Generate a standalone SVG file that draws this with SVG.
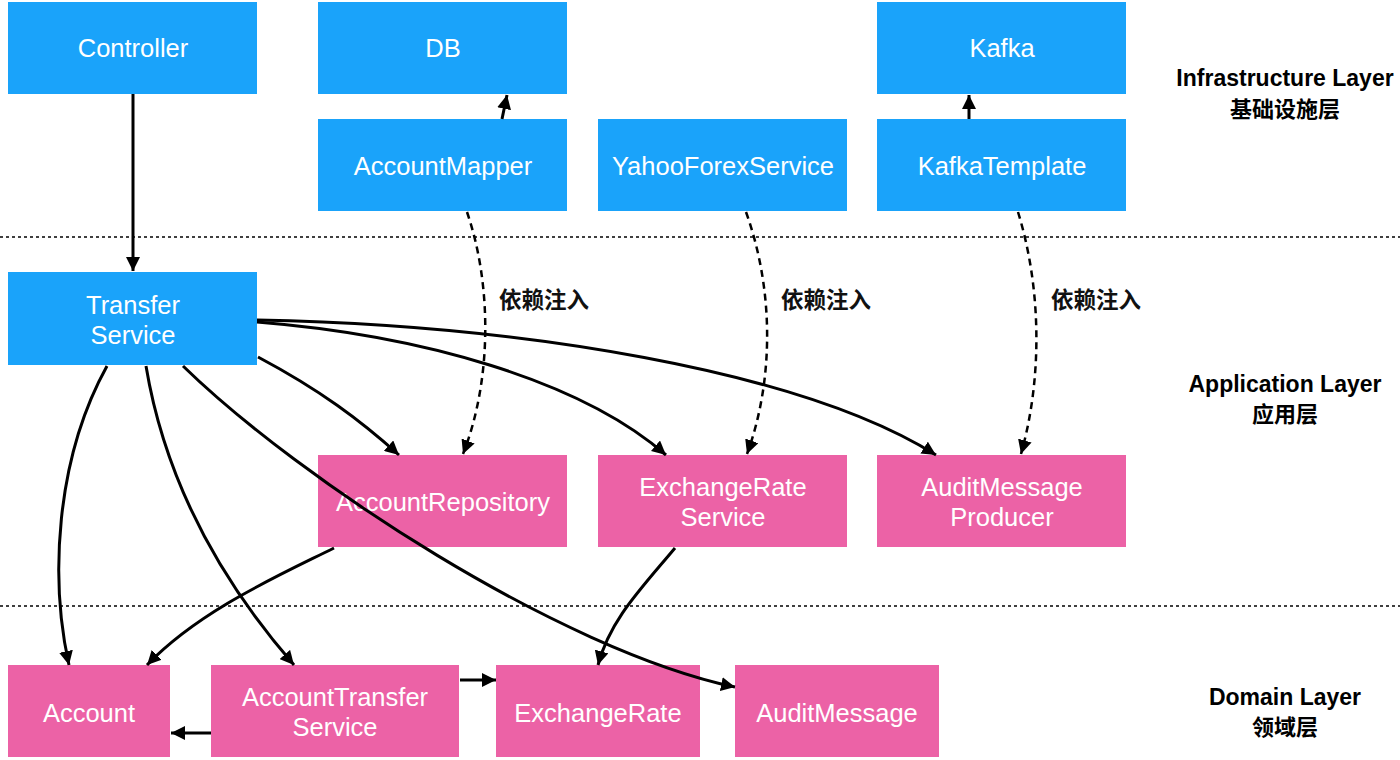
<svg xmlns="http://www.w3.org/2000/svg" width="1400" height="760" viewBox="0 0 1400 760">
<style>
.blue{fill:#1AA3FA}
.pink{fill:#EC62A6}
.nt{font-family:"Liberation Sans",Arial,sans-serif;font-size:25.5px;fill:#fff;text-anchor:middle}
.lt{font-family:"Liberation Sans","Noto Sans CJK SC",sans-serif;font-size:23px;font-weight:bold;fill:#000;text-anchor:middle}
.cjk{font-family:"Noto Sans CJK SC",sans-serif;font-size:22px}
.dep{font-family:"Noto Sans CJK SC",sans-serif;font-size:22.5px;font-weight:bold;fill:#111}
.sep{stroke:#000;stroke-width:1.6;stroke-dasharray:3 3;fill:none}
.c{stroke:#000;stroke-width:3;fill:none}
.d{stroke:#000;stroke-width:2.5;fill:none;stroke-dasharray:7 5}
</style>
<defs>
<marker id="ah" markerUnits="userSpaceOnUse" markerWidth="16" markerHeight="14" refX="14" refY="7" orient="auto">
<path d="M0,0 L14,7 L0,14 Z" fill="#000"/>
</marker>
</defs>
<rect width="1400" height="760" fill="#fff"/>
<g id="separators">
<line class="sep" x1="0" y1="237" x2="1400" y2="237"/>
<line class="sep" x1="0" y1="606" x2="1400" y2="606"/>
</g>
<g id="controller"><rect class="blue" x="8" y="2" width="249" height="92"/><text class="nt" x="133" y="57">Controller</text></g>
<g id="db"><rect class="blue" x="318" y="2" width="249" height="92"/><text class="nt" x="443" y="57">DB</text></g>
<g id="kafka"><rect class="blue" x="877" y="2" width="249" height="92"/><text class="nt" x="1002" y="57">Kafka</text></g>
<g id="accountMapper"><rect class="blue" x="318" y="119" width="249" height="92"/><text class="nt" x="443" y="175">AccountMapper</text></g>
<g id="yahooForexService"><rect class="blue" x="598" y="119" width="249" height="92"/><text class="nt" x="723" y="175">YahooForexService</text></g>
<g id="kafkaTemplate"><rect class="blue" x="877" y="119" width="249" height="92"/><text class="nt" x="1002" y="175">KafkaTemplate</text></g>
<g id="transferService"><rect class="blue" x="8" y="272" width="249" height="93"/><text class="nt" x="133" y="314">Transfer</text><text class="nt" x="133" y="344">Service</text></g>
<g id="accountRepository"><rect class="pink" x="318" y="455" width="249" height="92"/><text class="nt" x="443" y="511">AccountRepository</text></g>
<g id="exchangeRateService"><rect class="pink" x="598" y="455" width="249" height="92"/><text class="nt" x="723" y="496">ExchangeRate</text><text class="nt" x="723" y="526">Service</text></g>
<g id="auditMessageProducer"><rect class="pink" x="877" y="455" width="249" height="92"/><text class="nt" x="1002" y="496">AuditMessage</text><text class="nt" x="1002" y="526">Producer</text></g>
<g id="account"><rect class="pink" x="8" y="665" width="162" height="92"/><text class="nt" x="89" y="722">Account</text></g>
<g id="accountTransferService"><rect class="pink" x="211" y="665" width="248" height="92"/><text class="nt" x="335" y="706">AccountTransfer</text><text class="nt" x="335" y="736">Service</text></g>
<g id="exchangeRate"><rect class="pink" x="496" y="665" width="204" height="92"/><text class="nt" x="598" y="722">ExchangeRate</text></g>
<g id="auditMessage"><rect class="pink" x="735" y="665" width="204" height="92"/><text class="nt" x="837" y="722">AuditMessage</text></g>
<g id="layers">
<text class="lt" x="1285" y="86">Infrastructure Layer</text>
<text class="lt cjk" x="1285" y="117">基础设施层</text>
<text class="lt" x="1285" y="392">Application Layer</text>
<text class="lt cjk" x="1285" y="422">应用层</text>
<text class="lt" x="1285" y="705">Domain Layer</text>
<text class="lt cjk" x="1285" y="735">领域层</text>
</g>
<g id="connectors">
<line class="c" x1="133" y1="94" x2="133" y2="271" marker-end="url(#ah)"/>
<line class="c" x1="502" y1="119" x2="507" y2="95" marker-end="url(#ah)"/>
<line class="c" x1="969" y1="119" x2="969" y2="95" marker-end="url(#ah)"/>
<path class="d" d="M467,212 C492,285 492,380 463,454" marker-end="url(#ah)"/>
<path class="d" d="M746,212 C774,290 774,380 747,454" marker-end="url(#ah)"/>
<path class="d" d="M1018,212 C1042,290 1042,380 1021,454" marker-end="url(#ah)"/>
<path class="c" d="M257,320 C520,325 800,370 936,455" marker-end="url(#ah)"/>
<path class="c" d="M257,322 C420,335 580,380 666,455" marker-end="url(#ah)"/>
<path class="c" d="M258,357 C320,390 360,420 399,455" marker-end="url(#ah)"/>
<path class="c" d="M107,366 C55,460 50,580 69,665" marker-end="url(#ah)"/>
<path class="c" d="M146,366 C165,480 220,580 294,665" marker-end="url(#ah)"/>
<path class="c" d="M183,366 C300,480 560,650 735,687" marker-end="url(#ah)"/>
<path class="c" d="M334,548 C280,575 200,610 147,665" marker-end="url(#ah)"/>
<path class="c" d="M675,548 C640,590 610,620 598,665" marker-end="url(#ah)"/>
<line class="c" x1="460" y1="680" x2="496" y2="680" marker-end="url(#ah)"/>
<line class="c" x1="211" y1="733" x2="171" y2="733" marker-end="url(#ah)"/>
</g>
<g id="labels">
<text class="dep" x="499" y="308">依赖注入</text>
<text class="dep" x="781" y="308">依赖注入</text>
<text class="dep" x="1051" y="308">依赖注入</text>
</g>
</svg>
